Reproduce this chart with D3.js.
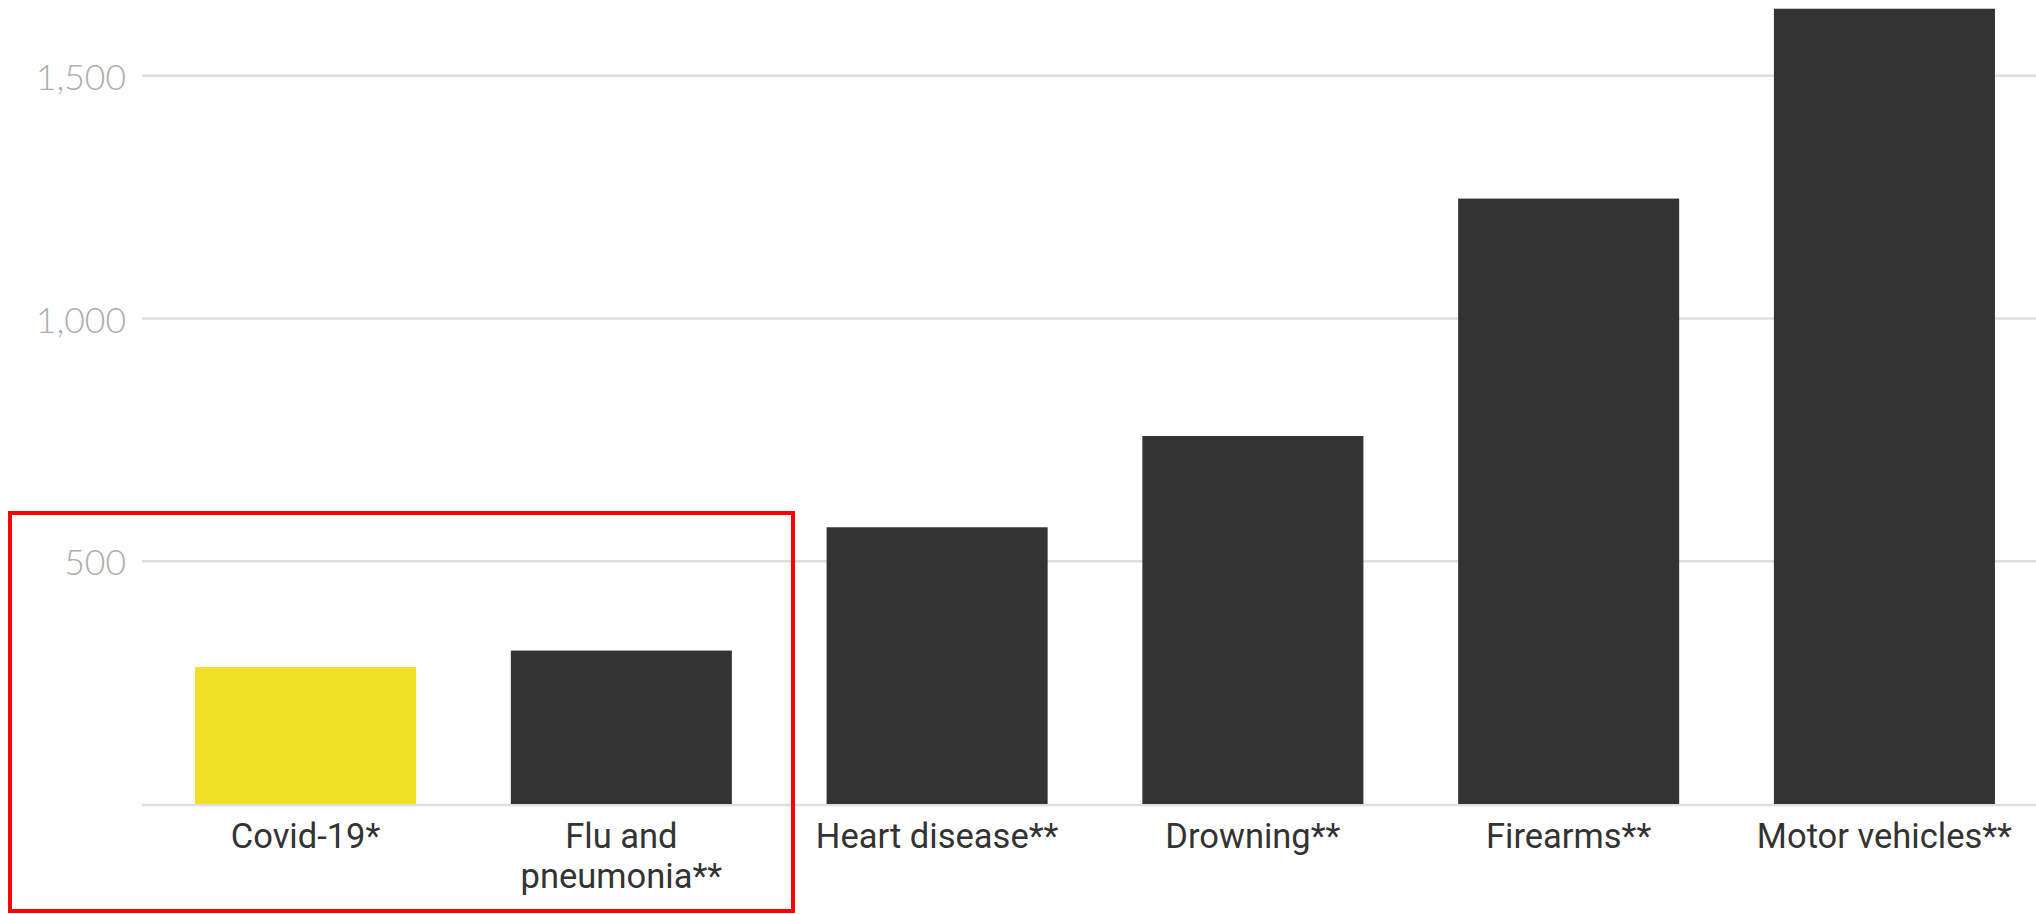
<!DOCTYPE html>
<html>
<head>
<meta charset="utf-8">
<script src="https://cdn.jsdelivr.net/npm/d3@7"></script>
<style>
  html, body { margin: 0; padding: 0; background: #fff; }
  svg { display: block; }
</style>
</head>
<body>
<div id="chart"></div>
<script>
const categories = ['Covid-19*', 'Flu and\npneumonia**', 'Heart disease**', 'Drowning**', 'Firearms**', 'Motor vehicles**'];
const values = [282, 316, 570, 758, 1247, 1638];
const highlight = ['Covid-19*'];
const yTicks = [500, 1000, 1500];

const width = 2036, height = 914;
const gridLeft = 142;

const svg = d3.select('#chart').append('svg')
  .attr('width', width)
  .attr('height', height);

const x = d3.scaleBand()
  .domain(categories)
  .range([gridLeft, 2048])
  .paddingInner(0.3)
  .paddingOuter(0.168);

const y = d3.scaleLinear()
  .domain([0, 1656])
  .range([804, 0]);

// gridlines + labels
const grid = svg.append('g').attr('class', 'grid');
grid.selectAll('line')
  .data(yTicks)
  .join('line')
  .attr('x1', gridLeft)
  .attr('x2', width)
  .attr('y1', d => y(d))
  .attr('y2', d => y(d))
  .attr('stroke', '#dedede')
  .attr('stroke-width', 2.5);

grid.selectAll('text')
  .data(yTicks)
  .join('text')
  .attr('x', 126)
  .attr('y', d => y(d))
  .attr('dy', '0.4em')
  .attr('text-anchor', 'end')
  .attr('fill', '#adadad')
  .attr('font-family', 'Lato, "Open Sans", sans-serif')
  .attr('font-weight', 300)
  .attr('font-size', 35.5)
  .text(d => d3.format(',')(d));

// baseline
svg.append('line')
  .attr('x1', gridLeft)
  .attr('x2', width)
  .attr('y1', y(0) + 1)
  .attr('y2', y(0) + 1)
  .attr('stroke', '#dedede')
  .attr('stroke-width', 2.5);

// bars
svg.append('g').selectAll('rect')
  .data(categories)
  .join('rect')
  .attr('x', d => x(d))
  .attr('y', (d, i) => y(values[i]))
  .attr('width', x.bandwidth())
  .attr('height', (d, i) => y(0) - y(values[i]))
  .attr('fill', d => highlight.includes(d) ? '#efe026' : '#333333');

// x labels
const xl = svg.append('g').selectAll('text')
  .data(categories)
  .join('text')
  .attr('x', d => x(d) + x.bandwidth() / 2)
  .attr('y', 848)
  .attr('text-anchor', 'middle')
  .attr('fill', '#333333')
  .attr('font-family', 'Roboto, sans-serif')
  .attr('font-size', 34.5);

xl.each(function(d) {
  const lines = d.split('\n');
  const t = d3.select(this);
  lines.forEach((ln, i) => {
    t.append('tspan')
      .attr('x', x(d) + x.bandwidth() / 2)
      .attr('dy', i === 0 ? 0 : 40)
      .text(ln);
  });
});

// red highlight box
svg.append('rect')
  .attr('x', 10)
  .attr('y', 513)
  .attr('width', 783)
  .attr('height', 398)
  .attr('fill', 'none')
  .attr('stroke', '#ff0000')
  .attr('stroke-width', 4);
</script>
</body>
</html>
